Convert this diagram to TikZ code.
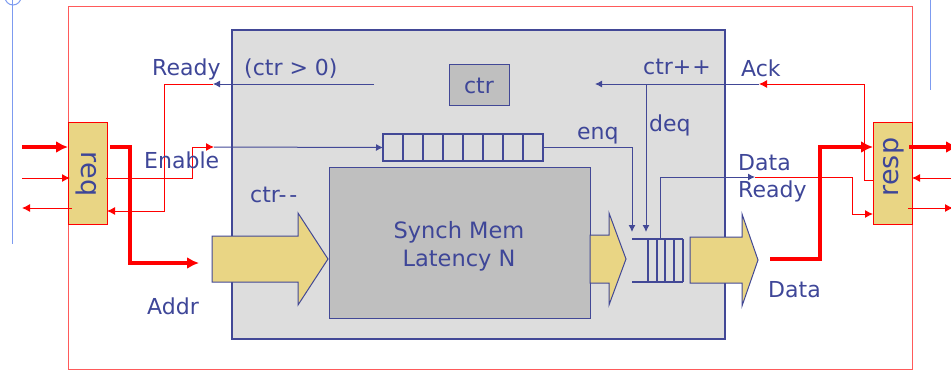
\documentclass[tikz,border=0pt]{standalone}
\usepackage{fontspec}
\setmainfont{DejaVu Sans}
\usetikzlibrary{arrows.meta,calc}
\definecolor{mblue}{RGB}{66,72,150}
\definecolor{tblue}{RGB}{62,70,152}
\definecolor{myel}{RGB}{233,213,132}
\definecolor{bggray}{RGB}{221,221,221}
\definecolor{memgray}{RGB}{191,191,191}
\definecolor{lblue}{RGB}{125,155,240}
\definecolor{lred}{RGB}{255,90,90}
\begin{document}
\begin{tikzpicture}[x=1pt,y=-1pt,
  box/.style={inner sep=0pt, outer sep=0pt, anchor=north west},
  lbl/.style={text=tblue, font=\fontsize{22}{26}\selectfont, inner sep=0pt, anchor=base west},
  biglbl/.style={text=tblue, font=\fontsize{27}{30}\selectfont, inner sep=0pt, anchor=center},
  bl/.style={draw=mblue, line width=1pt},
  thinred/.style={draw=red, line width=1pt},
  thickred/.style={draw=red, line width=4pt},
  tipB/.style={-{Latex[length=7pt,width=7pt]}},
  tipS/.style={-{Latex[length=8pt,width=8pt]}},
  tipL/.style={-{Latex[length=12pt,width=12pt]}},
  bigarrow/.style={fill=myel, draw=mblue, line width=1pt, line join=miter},
  qline/.style={draw=mblue, line width=2pt},
]
\useasboundingbox (0,0) rectangle (951,370);

% light blue guide lines
\draw[lblue, line width=1pt] (12,0) -- (12,244);
\draw[lblue, line width=1pt] (13,-3) circle (8pt);
\draw[lblue, line width=1pt] (930,0) -- (930,90);

% outer frame and core
\node[box, draw=lred, line width=1pt, minimum width=844pt, minimum height=363pt] (outer) at (68,6) {};
\node[box, fill=bggray, draw=mblue, line width=1.2pt, minimum width=493pt, minimum height=309pt] (core) at (232,30) {};

% counter
\node[box, fill=memgray, draw=mblue, line width=1pt, minimum width=60pt, minimum height=41pt] (ctr) at (449,64) {};
\node[lbl, anchor=center] (ctrt) at (479,86.3) {ctr};

% top queue
\node[box, qline, minimum width=160pt, minimum height=27pt] (tq) at (383,134) {};
\foreach \i in {1,...,7} \draw[mblue, line width=1.6pt] ({383+20*\i},134) -- ({383+20*\i},161);

% memory
\node[box, fill=memgray, draw=mblue, line width=1pt, minimum width=261pt, minimum height=151pt] (mem) at (329,167) {};
\node[lbl, anchor=center, align=center, font=\fontsize{22.5}{28}\selectfont] (memt) at (459,246) {Synch Mem\\Latency N};

% output queue
\node[box, minimum width=51pt, minimum height=43pt] (oq) at (632,239) {};
\draw[qline] (oq.north west) -- (oq.north east) (oq.south west) -- (oq.south east);
\foreach \x in {648,656.5,665,674,683} \draw[qline] (\x,239) -- (\x,282);

% big arrows
\draw[bigarrow] (212,236) -- (298,236) -- (298,213) -- (328,259) -- (298,305) -- (298,282) -- (212,282) -- cycle;
\draw[bigarrow] (590,235) -- (609,235) -- (609,213) -- (626,259) -- (609,305) -- (609,283) -- (590,283) -- cycle;
\draw[bigarrow] (690,237) -- (742,237) -- (742,214) -- (758,260) -- (742,306) -- (742,283) -- (690,283) -- cycle;

% req / resp boxes
\node[box, fill=myel, draw=red, line width=1pt, minimum width=39pt, minimum height=102pt] (req) at (68,122) {};
\node[biglbl, rotate=-90] (reqt) at (86,174) {req};
\node[box, fill=myel, draw=red, line width=1pt, minimum width=39pt, minimum height=102pt] (resp) at (873,122) {};
\node[biglbl, rotate=90] (respt) at (894,167) {resp};

% helper coordinates
\coordinate (li1) at (22,147);
\coordinate (li2) at (22,178);
\coordinate (lo1) at (22,208);
\coordinate (y211) at (0,211);
\coordinate (y180) at (0,180);
\coordinate (y214) at (0,214);
\coordinate (addrin) at (199,263);
\coordinate (en) at (214,147);
\coordinate (rdy) at (213,84);
\coordinate (gt0) at (374,84);
\coordinate (ack) at (759,84);
\coordinate (cpp) at (595,84);
\coordinate (dq) at (646,84);
\coordinate (dr) at (755,177);
\coordinate (dat) at (770,259);
\coordinate (ro1) at (958,147);
\coordinate (ri2) at (951,178);
\coordinate (ro3) at (953,208);

% left side signals
\draw[thickred, tipL] (li1) -- (li1 -| req.west);
\draw[thinred, tipS] (li2) -- ($(li2 -| req.west)+(2,0)$);
\draw[thinred, tipS] ($(lo1 -| req.west)+(4,0)$) -- (lo1);
\draw[thickred, tipL] ($(req.east |- li1)+(3,0)$) -| (130,263) -- (addrin);

% Enable
\draw[thinred, tipS] ($(req.east |- li2)+(-1,0)$) -| (192,147) -- (en);
\draw[bl, tipB] (en) -- (tq.west);

% Ready
\draw[bl, tipB] (gt0) -- (rdy);
\draw[thinred, tipS] (rdy) -- (164,84) -- (164,211) -- (req.east |- y211);

% enq / deq / Ack
\draw[bl, tipB] (tq.east) -| ($(oq.north west)+(0,-7)$);
\draw[thinred, tipS] (resp.west |- y180) -- (864,180) |- (ack);
\draw[bl, tipB] (ack) -- (cpp);
\draw[bl, tipB] (dq) -- ($(oq.north west)+(14,-7)$);

% Data Ready
\draw[bl, tipB] ($(oq.north west)+(28,0)$) |- (dr);
\draw[thinred, tipS] (dr) -| (852,214) -- (resp.west |- y214);

% Data
\draw[thickred, tipL] (dat) -| (820,147) -- (resp.west |- li1);

% right side signals
\draw[thickred, tipL] ($(resp.east |- li1)+(-3,0)$) -- (ro1);
\draw[thinred, tipS] (ri2) -- (resp.east |- ri2);
\draw[thinred, tipS] ($(resp.east |- ro3)+(-4,0)$) -- (ro3);

% labels
\node[lbl] (tready) at (152,75) {Ready};
\node[lbl] (tgt) at (244,75) {(ctr > 0)};
\node[lbl] (tenable) at (144,168) {Enable};
\node[lbl] (tdec) at (250,202) {ctr-\kern3pt-};
\node[lbl] (taddr) at (147,314) {Addr};
\node[lbl] (tenq) at (577,139) {enq};
\node[lbl] (tinc) at (643,74) {ctr+\kern1pt+};
\node[lbl] (tack) at (741,76) {Ack};
\node[lbl] (tdeq) at (649,131) {deq};
\node[lbl] (tdata1) at (738,170) {Data};
\node[lbl] (tdready) at (738,197) {Ready};
\node[lbl] (tdata2) at (768,297) {Data};
\end{tikzpicture}
\end{document}
